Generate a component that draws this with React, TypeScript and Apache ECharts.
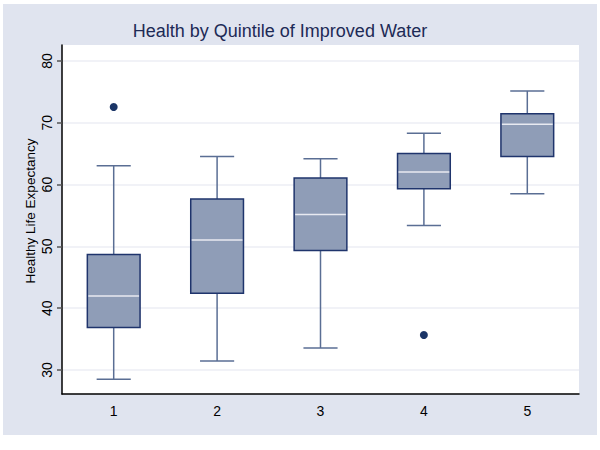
import React, { useEffect, useRef } from "react";
import * as echarts from "echarts";

const categories = ["1", "2", "3", "4", "5"];
// [lowerWhisker, Q1, median, Q3, upperWhisker]
const boxValues: number[][] = [
  [28.5, 36.85, 41.95, 48.7, 63.05],
  [31.45, 42.43, 51.05, 57.67, 64.55],
  [33.55, 49.32, 55.14, 61.06, 64.18],
  [53.36, 59.33, 62.03, 65.03, 68.33],
  [58.53, 64.55, 69.78, 71.49, 75.16],
];
const outliers: number[][] = [
  [0, 72.57],
  [3, 35.65],
];
const yTicks = [30, 40, 50, 60, 70, 80];

export default function App() {
  const ref = useRef<HTMLDivElement>(null);
  useEffect(() => {
    if (!ref.current) return;
    const chart = echarts.init(ref.current, undefined, { renderer: "svg" });
    const boxData = boxValues.map((v, i) => [i, ...v]);
    chart.setOption({
      animation: false,
      backgroundColor: "#ffffff",
      textStyle: { fontFamily: "Liberation Sans" },
      graphic: [
        {
          type: "rect",
          z: -100,
          silent: true,
          shape: { x: 3, y: 4, width: 594, height: 431 },
          style: { fill: "#e0e4ef" },
        },
        {
          type: "text",
          silent: true,
          x: 30,
          y: 211,
          rotation: Math.PI / 2,
          style: {
            text: "Healthy Life Expectancy",
            fontFamily: "Liberation Sans",
            fontSize: 13.5,
            fill: "#000000",
            textAlign: "center",
            textVerticalAlign: "middle",
          },
        },
      ],
      title: {
        text: "Health by Quintile of Improved Water",
        left: 275,
        top: 17,
        textAlign: "center",
        textStyle: {
          fontFamily: "Liberation Sans",
          fontSize: 18,
          fontWeight: "normal",
          color: "#1d2a56",
        },
      },
      grid: {
        left: 62,
        right: 21,
        top: 45,
        bottom: 56,
        show: true,
        backgroundColor: "#ffffff",
        borderWidth: 0,
      },
      xAxis: {
        type: "category",
        data: categories,
        boundaryGap: true,
        axisLine: { lineStyle: { color: "#000000", width: 1.5 } },
        axisTick: { show: false },
        axisLabel: { color: "#000000", fontSize: 14, margin: 10 },
        splitLine: { show: false },
      },
      yAxis: {
        type: "value",
        min: 26.1,
        max: 82.6,
        splitNumber: 5,
        axisLine: { show: true, lineStyle: { color: "#000000", width: 1.5 } },
        axisTick: { show: true, length: 5, lineStyle: { color: "#555555", width: 1.5 } },
        axisLabel: {
          show: true,
          rotate: 90,
          color: "#000000",
          fontSize: 14,
          margin: 8,
          showMinLabel: false,
          showMaxLabel: false,
        },
        splitLine: { show: false },
      },
      series: [
        {
          type: "custom",
          silent: true,
          data: boxData,
          encode: { x: 0, y: [1, 2, 3, 4, 5] },
          renderItem: (params: any, api: any) => {
            const x = api.value(0);
            const lo = api.coord([x, api.value(1)]);
            const q1 = api.coord([x, api.value(2)]);
            const med = api.coord([x, api.value(3)]);
            const q3 = api.coord([x, api.value(4)]);
            const hi = api.coord([x, api.value(5)]);
            const band = api.size([1, 0])[0];
            const bw = band * 0.51;
            const cw = band * 0.33;
            const cx = lo[0];
            const wStyle = { stroke: "#5a6e94", lineWidth: 1.5 };
            return {
              type: "group",
              children: [
                { type: "line", shape: { x1: cx, y1: hi[1], x2: cx, y2: q3[1] }, style: wStyle },
                { type: "line", shape: { x1: cx, y1: q1[1], x2: cx, y2: lo[1] }, style: wStyle },
                { type: "line", shape: { x1: cx - cw / 2, y1: hi[1], x2: cx + cw / 2, y2: hi[1] }, style: wStyle },
                { type: "line", shape: { x1: cx - cw / 2, y1: lo[1], x2: cx + cw / 2, y2: lo[1] }, style: wStyle },
                {
                  type: "rect",
                  shape: { x: cx - bw / 2, y: q3[1], width: bw, height: q1[1] - q3[1] },
                  style: { fill: "#8f9db7", stroke: "#1f346c", lineWidth: 1.5 },
                },
                {
                  type: "line",
                  shape: { x1: cx - bw / 2 + 1, y1: med[1], x2: cx + bw / 2 - 1, y2: med[1] },
                  style: { stroke: "#e8eaf1", lineWidth: 1.5 },
                },
              ],
            };
          },
          markLine: {
            silent: true,
            symbol: "none",
            label: { show: false },
            lineStyle: { color: "#eceef4", width: 1.5, type: "solid" },
            data: yTicks.map((t) => ({ yAxis: t })),
            z: 0,
          },
          z: 2,
        },
        {
          type: "scatter",
          data: outliers,
          symbol: "circle",
          symbolSize: 8,
          itemStyle: { color: "#1b3567", opacity: 1 },
          silent: true,
          z: 3,
        },
      ],
    });
    return () => chart.dispose();
  }, []);
  return (
    <div
      ref={ref}
      style={{ position: "fixed", left: 0, top: 0, width: 600, height: 450 }}
    />
  );
}
